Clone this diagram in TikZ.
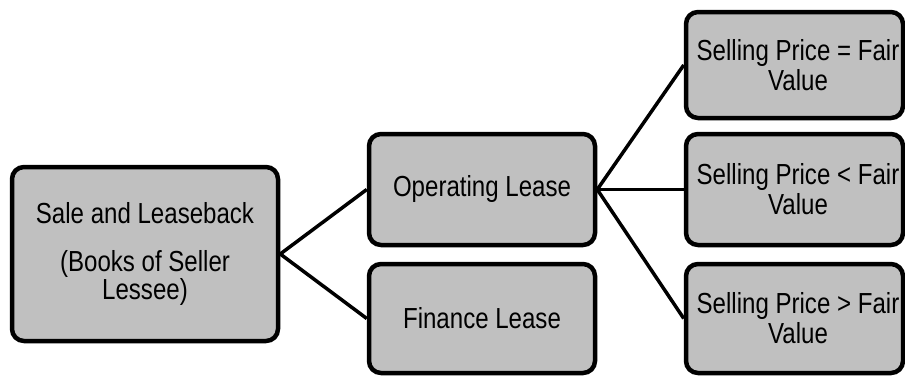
\documentclass[tikz,border=0pt]{standalone}
\usepackage{fontspec}
\setmainfont{Liberation Sans}[FakeStretch=0.83]
\definecolor{boxgray}{RGB}{192,192,192}
\tikzset{
  box/.style={draw=black, fill=boxgray, line width=4.5pt, rounded corners=12pt,
    inner sep=0pt, align=center, text=black,
    font=\fontsize{29pt}{30pt}\selectfont},
  link/.style={draw=black, line width=3.5pt}
}
\begin{document}
\begin{tikzpicture}[x=1pt,y=1pt]
\useasboundingbox (0,0) rectangle (905,376);
\node[box, minimum width=266pt, minimum height=174pt, font=\fontsize{29pt}{24pt}\selectfont] (sale) at (145,122)
  {Sale and Leaseback\\[24pt](Books of Seller\\Lessee)};
\node[box, minimum width=226pt, minimum height=111pt] (op) at (482,186.5) {Operating Lease};
\node[box, minimum width=226pt, minimum height=109pt] (fin) at (482,57.5) {Finance Lease};
\node[box, minimum width=217pt, minimum height=106pt] (eq) at (794.5,311) {\hspace*{7pt}Selling Price = Fair\\\hspace*{7pt}Value};
\node[box, minimum width=217pt, minimum height=111pt] (lt) at (794.5,186.5) {\hspace*{7pt}Selling Price < Fair\\\hspace*{7pt}Value};
\node[box, minimum width=217pt, minimum height=109pt] (gt) at (794.5,57.5) {\hspace*{7pt}Selling Price > Fair\\\hspace*{7pt}Value};
\draw[link] (sale.east) -- (op.west);
\draw[link] (sale.east) -- (fin.west);
\draw[link] (op.east) -- (eq.west);
\draw[link] (op.east) -- (lt.west);
\draw[link] (op.east) -- (gt.west);
\end{tikzpicture}
\end{document}
